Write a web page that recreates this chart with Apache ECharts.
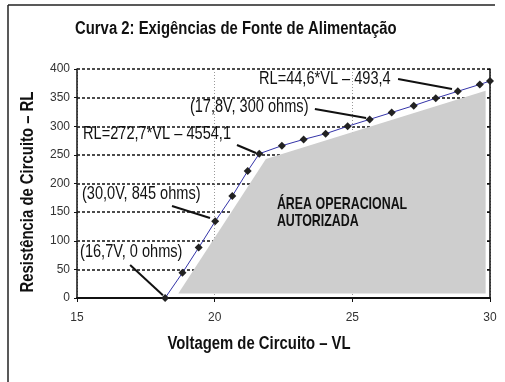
<!DOCTYPE html>
<html>
<head>
<meta charset="utf-8">
<script src="https://cdn.jsdelivr.net/npm/echarts@6/dist/echarts.min.js"></script>
<style>
  html, body { margin: 0; padding: 0; background: #fff; }
  #chart { width: 505px; height: 382px; }
</style>
</head>
<body>
<div id="chart"></div>
<script>
// curve points (VL in volts, RL in ohms)
const voltage = [18.2, 18.83, 19.42, 20.02, 20.64, 21.2, 21.62, 22.44, 23.23, 24.03, 24.83, 25.63, 26.43, 27.23, 28.03, 28.83, 29.63, 30.0];
const resistance = [0, 44, 88, 134, 178, 222, 252, 266, 277, 287, 300, 312, 324, 336, 349, 361, 373, 379];

// grey operating area outline
const areaVoltage = [18.68, 21.86, 29.84, 29.84];
const areaResistance = [8, 243, 362, 8];

// annotations: text anchor and arrow (data coords)
const noteText = ['RL=44,6*VL – 493,4', '(17,8V, 300 ohms)', 'RL=272,7*VL – 4554,1', '(30,0V, 845 ohms)', '(16,7V, 0 ohms)'];
const noteAt = [[21.61, 382.5], [19.1, 333.6], [15.22, 286.5], [15.18, 181.7], [15.11, 80.3]];
const arrowFrom = [[26.66, 382.5], [23.64, 330.1], [20.81, 267.2], [18.45, 160.7], [16.93, 57.6]];
const arrowTo = [[28.62, 365], [25.5, 314.4], [21.5, 253.3], [19.83, 139.7], [18.12, 4.7]];

const areaLabel = 'ÁREA OPERACIONAL\nAUTORIZADA';
const areaLabelAt = [22.26, 148.5];

const titleText = 'Curva 2: Exigências de Fonte de Alimentação';
const xName = 'Voltagem de Circuito – VL';
const yName = 'Resistência de Circuito – RL';

const SANS = "'Liberation Sans', Arial, sans-serif";

const curve = voltage.map((v, i) => [v, resistance[i]]);
const area = areaVoltage.map((v, i) => [v, areaResistance[i]]);

const chart = echarts.init(document.getElementById('chart'));

const option = {
  animation: false,
  backgroundColor: '#fff',
  grid: { left: 77, right: 15, top: 69, bottom: 84 },
  xAxis: {
    type: 'value', min: 15, max: 30, interval: 5,
    axisLine: { lineStyle: { color: '#111', width: 2 } },
    axisTick: { show: true, length: 4, lineStyle: { color: '#111' } },
    axisLabel: { fontFamily: SANS, fontSize: 12, color: '#333', margin: 14 },
    splitLine: { show: true, lineStyle: { color: '#999', type: [1, 2], width: 1 } }
  },
  yAxis: [{
    type: 'value', min: 0, max: 400, interval: 50,
    axisLine: { show: true, lineStyle: { color: '#111', width: 1.5 } },
    axisTick: { show: true, length: 3, lineStyle: { color: '#111' } },
    axisLabel: { fontFamily: SANS, fontSize: 12, color: '#333', margin: 7 },
    splitLine: { show: true, lineStyle: { color: '#111', type: [3, 2], width: 1.5 } }
  }, {
    type: 'value', min: 0, max: 400, interval: 50, position: 'right',
    axisLine: { show: true, lineStyle: { color: '#111', width: 1.5 } },
    axisTick: { show: true, inside: true, length: 3, lineStyle: { color: '#111' } },
    axisLabel: { show: false },
    splitLine: { show: false }
  }],
  series: [{
    type: 'custom',
    silent: true,
    z: 1,
    data: [0],
    renderItem: function (params, api) {
      const pts = area.map(p => api.coord(p));
      return { type: 'polygon', shape: { points: pts }, style: { fill: '#cecece' } };
    }
  }, {
    type: 'line',
    z: 3,
    data: curve,
    symbol: 'diamond',
    symbolSize: 8,
    lineStyle: { color: '#3434a8', width: 1 },
    itemStyle: { color: '#222' },
    markLine: {
      silent: true,
      symbol: ['none', 'path://M5,0 M5,12 L10,24 L0,24 Z'],
      symbolSize: [0, [7, 26]],
      label: { show: false },
      lineStyle: { color: '#111', width: 2, type: 'solid' },
      data: arrowFrom.map((f, i) => [{ coord: f }, { coord: arrowTo[i] }])
    }
  }]
};

chart.setOption(option);

// condensed-looking text: squeeze a regular face horizontally
function txt(x, y, text, size, bold, sx, align, extra) {
  return Object.assign({
    type: 'text', x: x, y: y, scaleX: sx, z: 10, silent: true,
    style: {
      text: text, fill: '#111', align: align || 'left', verticalAlign: 'middle',
      font: (bold ? 'bold ' : '') + size + 'px ' + SANS, lineHeight: size
    }
  }, extra || {});
}

const toPx = p => chart.convertToPixel({ xAxisIndex: 0, yAxisIndex: 0 }, p);

const graphics = [
  { type: 'line', shape: { x1: 8, y1: 5, x2: 495, y2: 5 }, style: { stroke: '#222', lineWidth: 1.5 } },
  { type: 'line', shape: { x1: 8, y1: 5, x2: 8, y2: 382 }, style: { stroke: '#222', lineWidth: 1.5 } },
  txt(75, 29, titleText, 17.5, true, 0.85),
  txt(259, 344, xName, 17.5, true, 0.85, 'center'),
  txt(28, 192, yName, 17.5, true, 0.85, 'center', { rotation: Math.PI / 2 })
];
noteText.forEach((t, i) => {
  const p = toPx(noteAt[i]);
  graphics.push(txt(p[0], p[1], t, 18, false, 0.81));
});
const ap = toPx(areaLabelAt);
graphics.push(txt(ap[0], ap[1], areaLabel, 17, true, 0.73, 'left', { style: {
  text: areaLabel, fill: '#111', align: 'left', verticalAlign: 'middle',
  font: 'bold 17px ' + SANS, lineHeight: 17
} }));

chart.setOption({ graphic: graphics });
</script>
</body>
</html>
